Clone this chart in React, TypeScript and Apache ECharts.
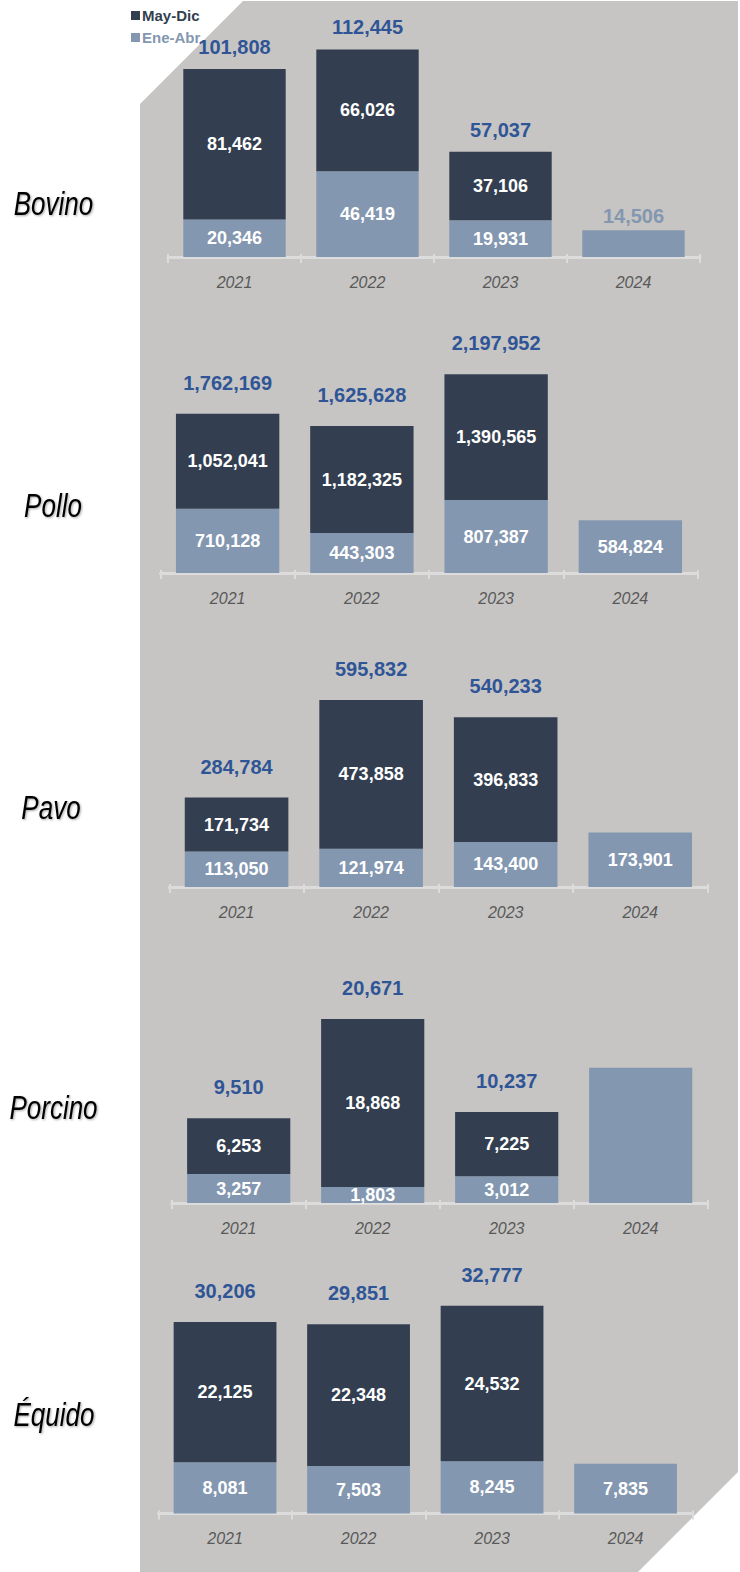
import React, { useEffect, useRef } from "react";
import * as echarts from "echarts";

const years = ["2021", "2022", "2023", "2024"];
const speciesNames = ["Bovino", "Pollo", "Pavo", "Porcino", "Équido"];
const legendNames = ["May-Dic", "Ene-Abr"];

const bovinoEneAbr = [20346, 46419, 19931, 14506];
const bovinoMayDic = [81462, 66026, 37106, null];
const bovinoTotal = [101808, 112445, 57037, null];

const polloEneAbr = [710128, 443303, 807387, 584824];
const polloMayDic = [1052041, 1182325, 1390565, null];
const polloTotal = [1762169, 1625628, 2197952, null];

const pavoEneAbr = [113050, 121974, 143400, 173901];
const pavoMayDic = [171734, 473858, 396833, null];
const pavoTotal = [284784, 595832, 540233, null];

const porcinoEneAbr = [3257, 1803, 3012, 15200];
const porcinoMayDic = [6253, 18868, 7225, null];
const porcinoTotal = [9510, 20671, 10237, null];

const equidoEneAbr = [8081, 7503, 8245, 7835];
const equidoMayDic = [22125, 22348, 24532, null];
const equidoTotal = [30206, 29851, 32777, null];

const eneAbrData = [bovinoEneAbr, polloEneAbr, pavoEneAbr, porcinoEneAbr, equidoEneAbr];
const mayDicData = [bovinoMayDic, polloMayDic, pavoMayDic, porcinoMayDic, equidoMayDic];
const totalData = [bovinoTotal, polloTotal, pavoTotal, porcinoTotal, equidoTotal];

// layout (pixels) per panel
const layout = [
  { left: 168, right: 700, base: 257, top: 17, max: 130000, dist: 12, name: [53.5, 203] },
  { left: 160.5, right: 697.5, base: 573, top: 338, max: 2600000, dist: 21, name: [53, 505] },
  { left: 169.3, right: 707.5, base: 887, top: 651.5, max: 750000, dist: 21, name: [51, 807] },
  { left: 171.7, right: 707.7, base: 1203, top: 971.6, max: 26000, dist: 21, name: [53.5, 1107] },
  { left: 158.3, right: 692.3, base: 1513.5, top: 1279, max: 37000, dist: 21, name: [54, 1414] },
];

const DARK = "#333f50";
const LIGHT = "#8497b0";
const BLUE = "#2f5597";
const BG = "#c6c5c3";
const AXIS = "#dcdcdc";
const FONT = "'Liberation Sans', Arial, sans-serif";

const fmt = (v: any) => (v == null ? "" : Number(v).toLocaleString("en-US"));

export default function App() {
  const ref = useRef<HTMLDivElement>(null);

  useEffect(() => {
    if (!ref.current) return;
    const chart = echarts.init(ref.current, null, { renderer: "svg" });

    const grids: any[] = [];
    const xAxes: any[] = [];
    const yAxes: any[] = [];
    const series: any[] = [];
    const graphics: any[] = [
      {
        type: "polygon",
        z: -100,
        shape: {
          points: [
            [243, 1],
            [738, 1],
            [738, 1472],
            [638, 1572],
            [140, 1572],
            [140, 104],
          ],
        },
        style: { fill: BG },
      },
    ];

    layout.forEach((p, i) => {
      grids.push({
        left: p.left,
        width: p.right - p.left,
        top: p.top,
        height: p.base - p.top,
        containLabel: false,
      });
      xAxes.push({
        type: "category",
        gridIndex: i,
        position: "bottom",
        offset: 3,
        data: years,
        axisLine: { show: true, lineStyle: { color: AXIS, width: 3 } },
        axisTick: { show: true, length: 6, lineStyle: { color: AXIS, width: 2 } },
        axisLabel: {
          color: "#595959",
          fontStyle: "italic",
          fontFamily: FONT,
          fontSize: 16,
          margin: 14,
        },
      });
      xAxes.push({
        type: "category",
        gridIndex: i,
        position: "bottom",
        offset: 3,
        data: years,
        axisLine: { show: false },
        axisTick: { show: true, inside: true, length: 6, lineStyle: { color: AXIS, width: 2 } },
        axisLabel: { show: false },
      });
      yAxes.push({
        type: "value",
        gridIndex: i,
        min: 0,
        max: p.max,
        show: false,
        splitLine: { show: false },
      });

      const innerLabel = {
        show: true,
        position: "inside",
        color: "#ffffff",
        fontWeight: "bold",
        fontFamily: FONT,
        fontSize: 18,
        formatter: (d: any) => fmt(d.value),
      };

      const light = eneAbrData[i].map((v, j) => {
        if (j === 3 && i === 0) {
          return {
            value: v,
            label: { show: true, position: "top", distance: 4, color: LIGHT, fontSize: 20 },
          };
        }
        if (j === 3 && i === 3) {
          return { value: v, label: { show: false } };
        }
        return v;
      });

      series.push({
        type: "bar",
        name: "Ene-Abr",
        xAxisIndex: i * 2,
        yAxisIndex: i,
        stack: "s" + i,
        data: light,
        barCategoryGap: "23%",
        barGap: "-100%",
        itemStyle: { color: LIGHT },
        label: innerLabel,
      });
      series.push({
        type: "bar",
        name: "May-Dic",
        xAxisIndex: i * 2,
        yAxisIndex: i,
        stack: "s" + i,
        data: mayDicData[i],
        barCategoryGap: "23%",
        barGap: "-100%",
        itemStyle: { color: DARK },
        label: innerLabel,
      });
      series.push({
        type: "bar",
        name: "Total",
        xAxisIndex: i * 2,
        yAxisIndex: i,
        data: totalData[i],
        barCategoryGap: "23%",
        barGap: "-100%",
        itemStyle: { color: "rgba(0,0,0,0)" },
        silent: true,
        z: 3,
        label: {
          show: true,
          position: "top",
          distance: p.dist,
          color: BLUE,
          fontWeight: "bold",
          fontFamily: FONT,
          fontSize: 20,
          formatter: (d: any) => fmt(d.value),
        },
      });

      graphics.push({
        type: "text",
        x: p.name[0],
        y: p.name[1],
        scaleY: 1.28,
        z: 10,
        style: {
          text: speciesNames[i],
          fontSize: 26,
          fontStyle: "italic",
          fontFamily: FONT,
          fill: "#000000",
          textAlign: "center",
          textVerticalAlign: "middle",
          textShadowColor: "rgba(0,0,0,0.35)",
          textShadowBlur: 2,
          textShadowOffsetX: 1,
          textShadowOffsetY: 1,
        },
      });
    });

    chart.setOption({
      animation: false,
      backgroundColor: "#ffffff",
      legend: {
        data: [
          { name: legendNames[0], textStyle: { color: DARK } },
          { name: legendNames[1], textStyle: { color: LIGHT } },
        ],
        orient: "vertical",
        left: 126,
        top: 3,
        itemWidth: 9,
        itemHeight: 9,
        itemGap: 7,
        icon: "rect",
        selectedMode: false,
        textStyle: {
          fontWeight: "bold",
          fontFamily: FONT,
          fontSize: 15,
          padding: [0, 0, 0, -3],
        },
      },
      grid: grids,
      xAxis: xAxes,
      yAxis: yAxes,
      series,
      graphic: graphics,
    });

    return () => chart.dispose();
  }, []);

  return (
    <div
      ref={ref}
      style={{ position: "absolute", left: 0, top: 0, width: 740, height: 1572 }}
    />
  );
}
